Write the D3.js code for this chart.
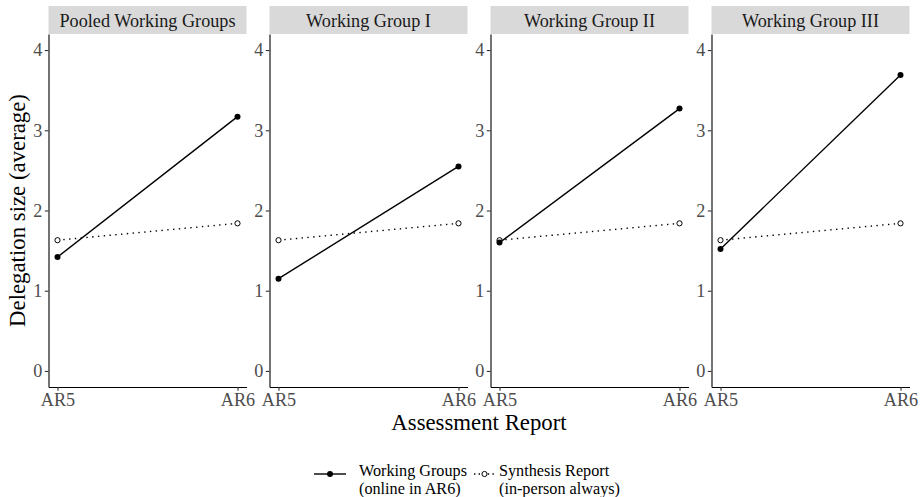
<!DOCTYPE html>
<html>
<head>
<meta charset="utf-8">
<script src="https://cdn.jsdelivr.net/npm/d3@7"></script>
<style>
  html, body { margin: 0; padding: 0; background: #fff; }
  svg { display: block; }
  text { font-family: "Liberation Serif", "Times New Roman", serif; }
</style>
</head>
<body>
<svg id="chart" width="921" height="497"></svg>
<script>
// ---- data ----
const facets = ["Pooled Working Groups", "Working Group I", "Working Group II", "Working Group III"];
const reports = ["AR5", "AR6"];
const wgValues = [[1.42, 3.17], [1.15, 2.55], [1.60, 3.27], [1.52, 3.69]];
const srValues = [[1.63, 1.84], [1.63, 1.84], [1.63, 1.84], [1.63, 1.84]];
const yTicks = [0, 1, 2, 3, 4];
const seriesLabels = [["Working Groups", "(online in AR6)"], ["Synthesis Report", "(in-person always)"]];
const yTitle = "Delegation size (average)";
const xTitle = "Assessment Report";

// ---- layout ----
const svg = d3.select("#chart");
const panelW = 198, panelStep = 221, panelLeft0 = 48.5;
const panelTop = 34, panelBottom = 387;
const stripTop = 6;
const small = "18.2px", big = "22.8px", legendSize = "16.2px";
const serif = "Liberation Serif, Times New Roman, serif";

const y = d3.scaleLinear().domain([-0.2, 4.2]).range([panelBottom, panelTop]);
const xIdx = d3.scaleLinear().domain([-0.05, 1.05]);

facets.forEach((name, i) => {
  const left = panelLeft0 + i * panelStep;
  const x = xIdx.copy().range([left, left + panelW]);
  const g = svg.append("g");

  // strip
  g.append("rect")
    .attr("x", left).attr("y", stripTop)
    .attr("width", panelW).attr("height", panelTop - stripTop)
    .attr("fill", "#D9D9D9");
  g.append("text")
    .attr("x", left + panelW / 2).attr("y", 26.5)
    .attr("text-anchor", "middle")
    .attr("font-size", small).attr("fill", "#1A1A1A")
    .text(name);

  // y axis
  const yAxis = d3.axisLeft(y).tickValues(yTicks).tickSize(3.7).tickSizeOuter(0).tickPadding(2.5)
    .tickFormat(d3.format("d"));
  const ya = g.append("g").attr("transform", `translate(${left},0)`).call(yAxis);
  ya.attr("font-family", serif);
  ya.select(".domain").attr("stroke", "#000").attr("stroke-width", 1.1);
  ya.selectAll(".tick line").attr("stroke", "#333").attr("stroke-width", 1.1);
  ya.selectAll(".tick text").attr("font-size", small).attr("fill", "#4D4D4D")
    .attr("font-family", serif);

  // x axis
  const xAxis = d3.axisBottom(x).tickValues([0, 1]).tickSize(3.7).tickSizeOuter(0).tickPadding(2.5)
    .tickFormat(d => reports[d]);
  const xa = g.append("g").attr("transform", `translate(0,${panelBottom})`).call(xAxis);
  xa.attr("font-family", serif);
  xa.select(".domain").attr("stroke", "#000").attr("stroke-width", 1.1);
  xa.selectAll(".tick line").attr("stroke", "#333").attr("stroke-width", 1.1);
  xa.selectAll(".tick text").attr("font-size", small).attr("fill", "#4D4D4D")
    .attr("font-family", serif);

  const line = d3.line().x((d, j) => x(j)).y(d => y(d));

  // synthesis report (dotted, open)
  g.append("path").datum(srValues[i]).attr("d", line)
    .attr("fill", "none").attr("stroke", "#000").attr("stroke-width", 1.4)
    .attr("stroke-dasharray", "1.4,4.4");
  // working groups (solid)
  g.append("path").datum(wgValues[i]).attr("d", line)
    .attr("fill", "none").attr("stroke", "#000").attr("stroke-width", 1.4);

  g.selectAll("circle.sr").data(srValues[i]).enter().append("circle")
    .attr("cx", (d, j) => x(j)).attr("cy", d => y(d)).attr("r", 2.6)
    .attr("fill", "#fff").attr("stroke", "#000").attr("stroke-width", 1);
  g.selectAll("circle.wg").data(wgValues[i]).enter().append("circle")
    .attr("cx", (d, j) => x(j)).attr("cy", d => y(d)).attr("r", 3)
    .attr("fill", "#000");
});

// axis titles
svg.append("text")
  .attr("transform", `translate(25,${(panelTop + panelBottom) / 2}) rotate(-90)`)
  .attr("text-anchor", "middle").attr("font-size", big).attr("fill", "#000")
  .text(yTitle);
svg.append("text")
  .attr("x", panelLeft0 + (3 * panelStep + panelW) / 2).attr("y", 430)
  .attr("text-anchor", "middle").attr("font-size", big).attr("fill", "#000")
  .text(xTitle);

// legend
const keyY = 474;
const legend = svg.append("g");
const keys = [
  { x0: 314, x1: 346, text: 359, dash: null, fill: "#000", r: 3, stroke: "none" },
  { x0: 474, x1: 495, text: 499, dash: "1.4,3.2", fill: "#fff", r: 2.6, stroke: "#000" }
];
keys.forEach((k, i) => {
  legend.append("line")
    .attr("x1", k.x0).attr("x2", k.x1).attr("y1", keyY).attr("y2", keyY)
    .attr("stroke", "#000").attr("stroke-width", 1.4)
    .attr("stroke-dasharray", k.dash);
  legend.append("circle")
    .attr("cx", (k.x0 + k.x1) / 2).attr("cy", keyY).attr("r", k.r)
    .attr("fill", k.fill).attr("stroke", k.stroke).attr("stroke-width", 1);
  seriesLabels[i].forEach((s, j) => {
    legend.append("text").attr("x", k.text).attr("y", 475.5 + j * 18)
      .attr("font-size", legendSize).attr("fill", "#000").text(s);
  });
});
</script>
</body>
</html>
